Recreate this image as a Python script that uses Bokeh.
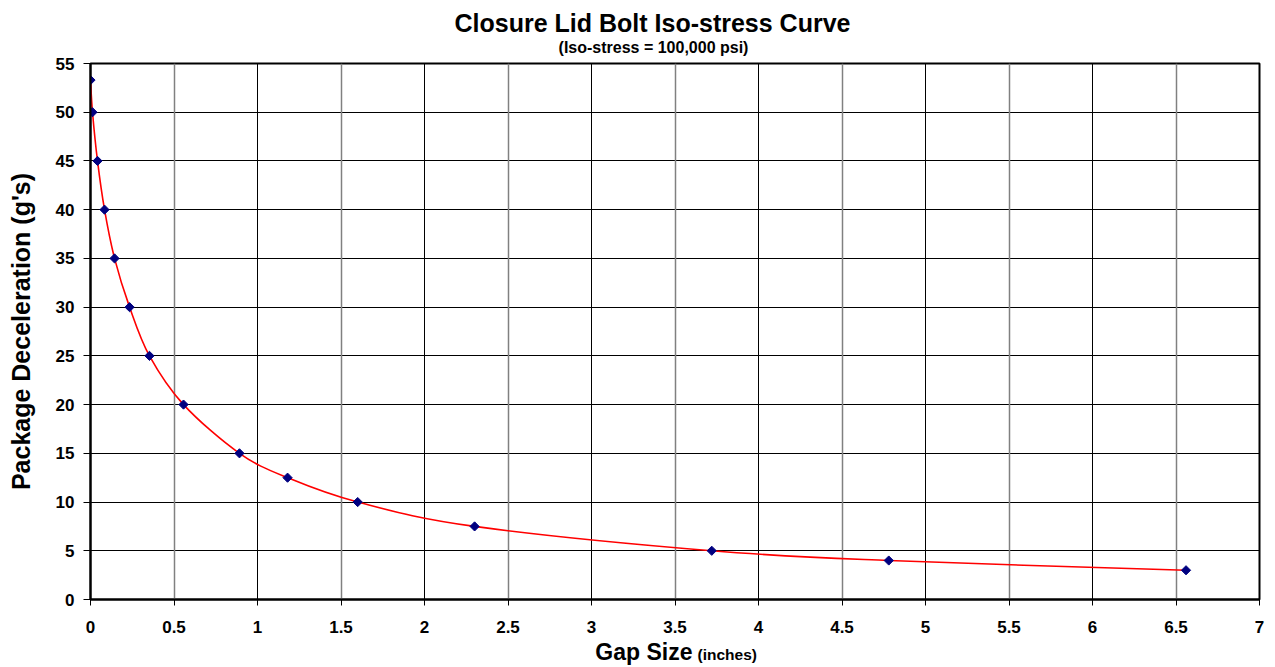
import math
from bokeh.plotting import figure
from bokeh.layouts import column
from bokeh.models import FixedTicker, Grid, Label, ColumnDataSource, Range1d
from bokeh.embed import file_html
from bokeh.resources import INLINE

# ---- data ----
gap = [0.0, 0.012, 0.042, 0.084, 0.144, 0.234, 0.353, 0.557, 0.892, 1.18, 1.60, 2.30, 3.72, 4.78, 6.56]
decel = [53.3, 50, 45, 40, 35, 30, 25, 20, 15, 12.5, 10, 7.5, 5, 4, 3]
x_ticks = [0, 0.5, 1, 1.5, 2, 2.5, 3, 3.5, 4, 4.5, 5, 5.5, 6, 6.5, 7]
y_ticks = [0, 5, 10, 15, 20, 25, 30, 35, 40, 45, 50, 55]
x_int_grid = [1, 2, 3, 4, 5, 6]
x_half_grid = [0.5, 1.5, 2.5, 3.5, 4.5, 5.5, 6.5]
title_text = "Closure Lid Bolt Iso-stress Curve"
subtitle_text = "(Iso-stress = 100,000 psi)"
xlabel_main = "Gap Size"
xlabel_unit = "(inches)"
ylabel_text = "Package Deceleration (g's)"

FONT = "Liberation Sans"
W = 1275
LEFT, RIGHT = 90, 16
TOP_H, MAIN_H, BOT_H = 58, 587, 28
OVERLAP = 6


def text_strip(h):
    f = figure(width=W, height=h, output_backend="svg", toolbar_location=None, title=None,
               x_range=Range1d(LEFT, W - RIGHT), y_range=Range1d(0, h),
               x_axis_type=None, y_axis_type=None,
               min_border_left=LEFT, min_border_right=RIGHT, min_border_top=0, min_border_bottom=0)
    f.outline_line_color = None
    f.background_fill_color = "white"
    f.border_fill_color = "white"
    f.xgrid.visible = False
    f.ygrid.visible = False
    return f


# ---- title strip (x in page pixels, y from strip bottom) ----
top = text_strip(TOP_H)
top.add_layout(Label(x=652, y=35.7, text=title_text, text_align="center", text_baseline="middle",
                     text_font=FONT, text_font_style="bold", text_font_size="25px", text_color="black"))
top.add_layout(Label(x=653, y=10.6, text=subtitle_text, text_align="center", text_baseline="middle",
                     text_font=FONT, text_font_style="bold", text_font_size="16px", text_color="black"))

# ---- main chart (transparent border, pulled up slightly over the title strip) ----
p = figure(width=W, height=MAIN_H, output_backend="svg", toolbar_location=None,
           title=None, x_range=Range1d(0, 7), y_range=Range1d(0, 55),
           min_border_left=LEFT, min_border_right=RIGHT, min_border_top=5 + OVERLAP, min_border_bottom=40,
           margin=(-OVERLAP, 0, 0, 0))
p.background_fill_color = "white"
p.border_fill_color = None
p.outline_line_color = "black"
p.outline_line_width = 2

p.xaxis.ticker = FixedTicker(ticks=x_ticks)
p.yaxis.ticker = FixedTicker(ticks=y_ticks)
p.xaxis.major_label_overrides = {t: (str(int(t)) if float(t).is_integer() else str(t)) for t in x_ticks}
for ax in (p.xaxis, p.yaxis):
    ax.axis_line_color = "black"
    ax.axis_line_width = 2
    ax.major_tick_line_color = "black"
    ax.major_tick_line_width = 1
    ax.major_tick_in = 0
    ax.minor_tick_line_color = None
    ax.major_label_text_font = FONT
    ax.major_label_text_font_style = "bold"
    ax.major_label_text_font_size = "17px"
    ax.major_label_text_color = "black"
p.xaxis.major_tick_out = 6
p.yaxis.major_tick_out = 7
p.xaxis.major_label_standoff = 15
p.yaxis.major_label_standoff = 9

p.yaxis.axis_label = ylabel_text
p.yaxis.axis_label_text_font = FONT
p.yaxis.axis_label_text_font_style = "bold"
p.yaxis.axis_label_text_font_size = "25px"
p.yaxis.axis_label_text_color = "black"
p.yaxis.axis_label_standoff = 18

p.xgrid.grid_line_color = None
p.ygrid.ticker = FixedTicker(ticks=y_ticks)
p.ygrid.grid_line_color = "black"
p.ygrid.grid_line_width = 1
p.add_layout(Grid(dimension=0, ticker=FixedTicker(ticks=x_half_grid), grid_line_color="#808080", grid_line_width=1.5))
p.add_layout(Grid(dimension=0, ticker=FixedTicker(ticks=x_int_grid), grid_line_color="black", grid_line_width=1))

# smoothed curve: Catmull-Rom style Bezier segments through the data points
n = len(gap)
seg = dict(x0=[], y0=[], x1=[], y1=[], cx0=[], cy0=[], cx1=[], cy1=[])
for i in range(n - 1):
    pm = i - 1 if i > 0 else i
    pp = i + 2 if i + 2 < n else i + 1
    seg["x0"].append(gap[i]); seg["y0"].append(decel[i])
    seg["x1"].append(gap[i + 1]); seg["y1"].append(decel[i + 1])
    seg["cx0"].append(gap[i] + (gap[i + 1] - gap[pm]) / 6.0)
    seg["cy0"].append(decel[i] + (decel[i + 1] - decel[pm]) / 6.0)
    seg["cx1"].append(gap[i + 1] - (gap[pp] - gap[i]) / 6.0)
    seg["cy1"].append(decel[i + 1] - (decel[pp] - decel[i]) / 6.0)
p.bezier(x0="x0", y0="y0", x1="x1", y1="y1", cx0="cx0", cy0="cy0", cx1="cx1", cy1="cy1",
         source=ColumnDataSource(seg), line_color="#FF0000", line_width=1.6)

p.scatter(gap, decel, marker="square", size=6.5, angle=math.pi / 4,
          fill_color="#000080", line_color="#000080")

# ---- x-axis title strip (x in page pixels, y from strip bottom) ----
bot = text_strip(BOT_H)
bot.add_layout(Label(x=692, y=16.0, text=xlabel_main, text_align="right", text_baseline="middle",
                     text_font=FONT, text_font_style="bold", text_font_size="23px", text_color="black"))
bot.add_layout(Label(x=697, y=13.4, text=xlabel_unit, text_align="left", text_baseline="middle",
                     text_font=FONT, text_font_style="bold", text_font_size="15.5px", text_color="black"))

layout = column(top, p, bot, spacing=0)
open("out.html", "w").write(file_html(layout, INLINE))
